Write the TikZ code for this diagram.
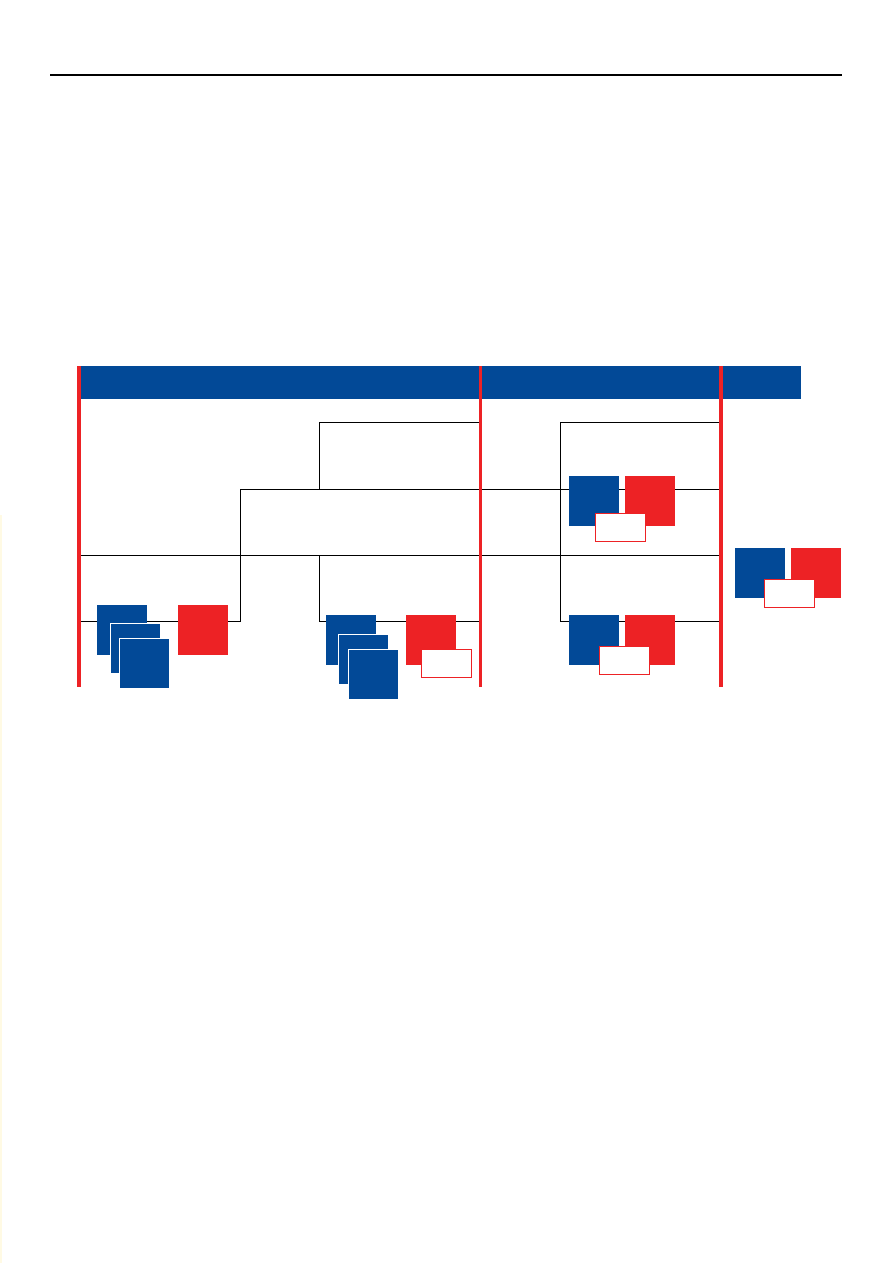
\documentclass[tikz,border=0pt]{standalone}
\usepackage{tikz}
\usetikzlibrary{positioning}
\definecolor{barblue}{RGB}{2,73,151}
\definecolor{barred}{RGB}{237,34,37}
\definecolor{edgecream}{RGB}{255,250,228}

\begin{document}
\begin{tikzpicture}[
    x=1pt, y=-1pt,
    node distance=5pt,
    bluebox/.style={fill=barblue, draw=none, minimum width=50pt, minimum height=50pt, inner sep=0pt, anchor=north west},
    stackbox/.style={bluebox, draw=white, line width=0.8pt},
    redbox/.style={fill=barred, draw=none, minimum width=50pt, minimum height=50pt, inner sep=0pt},
    tagbox/.style={fill=white, draw=barred, line width=0.9pt, minimum width=50pt, minimum height=28pt, inner sep=0pt, anchor=north west},
    rail/.style={draw=barred, line width=3.5pt},
    link/.style={draw=black, line width=1pt}
]
\useasboundingbox (0,0) rectangle (893,1263);

% page
\fill[edgecream] (0,515) rectangle (1.5,1263);
\draw[line width=1.3pt] (50,75) -- (842,75);
\fill[barblue] (78,366) rectangle (801,399);

% Coordinates
\coordinate (p0) at (80,621);
\coordinate (p1) at (240,621);
\coordinate (p2) at (240,489);
\coordinate (p3) at (721,489);
\coordinate (q0) at (80,555);
\coordinate (q1) at (721,555);
\coordinate (s0) at (319.5,422);
\coordinate (s1) at (480.5,422);
\coordinate (s2) at (319.5,489);
\coordinate (u0) at (319.5,555);
\coordinate (u1) at (319.5,621);
\coordinate (u2) at (480.5,621);
\coordinate (v0) at (560.5,422);
\coordinate (v1) at (721,422);
\coordinate (v2) at (560.5,621);
\coordinate (v3) at (721,621);

% Connections
\path[link] (p0) -- (p1) -- (p2) -- (p3);
\path[link] (q0) -- (q1);
\path[link] (s2) -- (s0) -- (s1);
\path[link] (u0) -- (u1) -- (u2);
\path[link] (v1) -- (v0) -- (v2) -- (v3);

% Nodes
\node[bluebox] (b1a) at (97,605) {};
\node[stackbox] (b1b) at (109.5,622.5) {};
\node[stackbox] (b1c) at (119,637.5) {};
\node[redbox, anchor=north west] (r1) at (178,605) {};

\node[bluebox] (b2a) at (326,615) {};
\node[stackbox] (b2b) at (337.5,633.5) {};
\node[stackbox] (b2c) at (347.5,648.5) {};
\node[redbox, anchor=north west] (r2) at (406,615) {};
\node[tagbox] (w2) at (421,648.5) {};

\node[bluebox] (b3) at (569,476) {};
\node[redbox, right=of b3] (r3) {};
\node[tagbox] (w3) at (594.5,512.5) {};

\node[bluebox] (b4) at (569,615) {};
\node[redbox, right=of b4] (r4) {};
\node[tagbox] (w4) at (598.5,645.5) {};

\node[bluebox] (b5) at (735,548) {};
\node[redbox, right=of b5] (r5) {};
\node[tagbox] (w5) at (763.5,578.5) {};

% Rails
\path[rail] (79,366) -- (79,687);
\path[rail] (480.5,366) -- (480.5,687);
\path[rail] (721,366) -- (721,687);

\end{tikzpicture}
\end{document}
